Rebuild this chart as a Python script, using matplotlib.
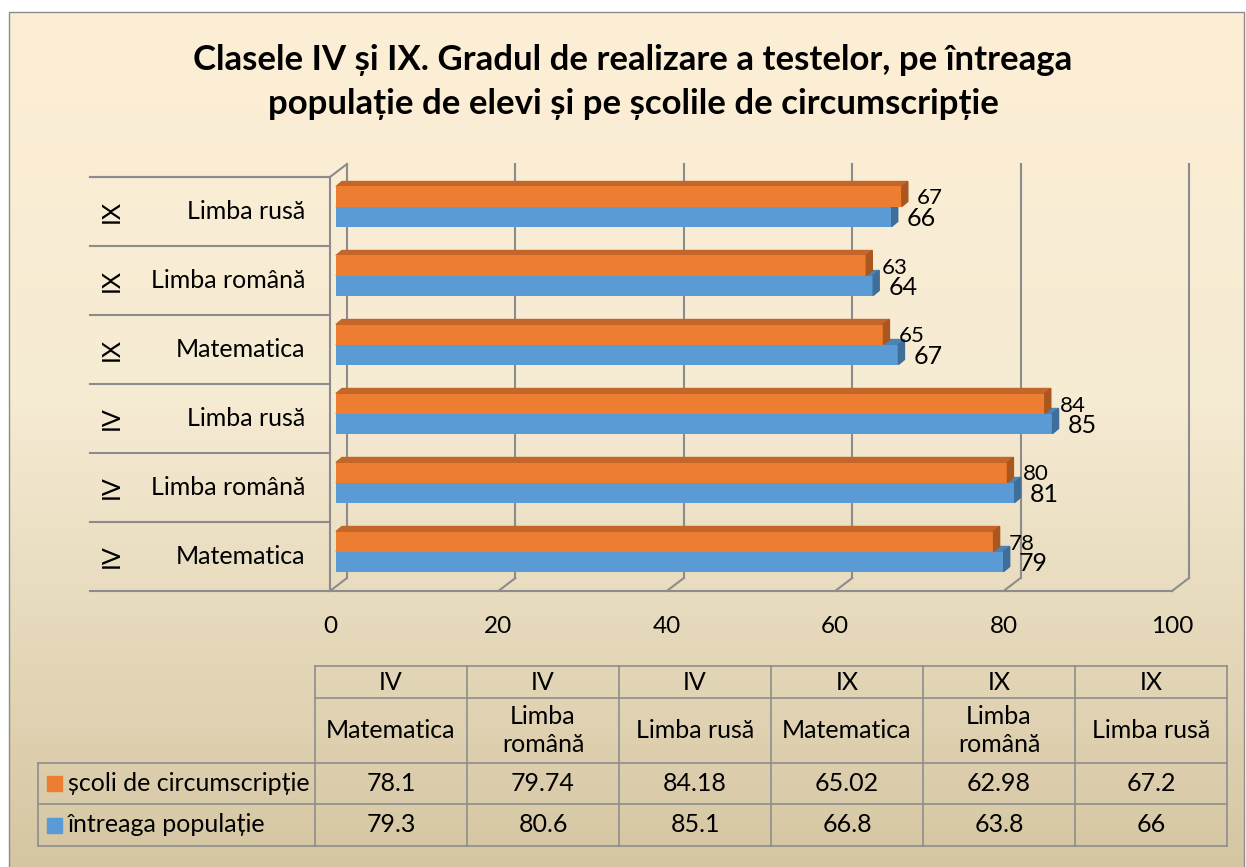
import numpy as np
import matplotlib
matplotlib.use("Agg")
import matplotlib.pyplot as plt
from matplotlib.patches import Polygon, Rectangle
from matplotlib.colors import LinearSegmentedColormap

plt.rcParams['font.family'] = ['Lato', 'DejaVu Sans']

# data
title = ("Clasele IV și IX. Gradul de realizare a testelor, pe întreaga\n"
         "populație de elevi și pe școlile de circumscripție")
grades = ["IV", "IV", "IV", "IX", "IX", "IX"]
subjects = ["Matematica", "Limba română", "Limba rusă",
            "Matematica", "Limba română", "Limba rusă"]
subjects_table = ["Matematica", "Limba\nromână", "Limba rusă",
                  "Matematica", "Limba\nromână", "Limba rusă"]
series_names = ["școli de circumscripție", "întreaga populație"]
scoli = [78.1, 79.74, 84.18, 65.02, 62.98, 67.2]
intreaga = [79.3, 80.6, 85.1, 66.8, 63.8, 66]
xticks = [0, 20, 40, 60, 80, 100]

orange, orange_side, orange_top = "#ED7D31", "#A9561F", "#C4652A"
blue, blue_side, blue_top = "#5B9BD5", "#3E6E99", "#4C84B6"
grid_c = "#8C8C8C"
fs = 18

W, H = 1246, 867
fig = plt.figure(figsize=(W / 100, H / 100), dpi=100)

# background gradient + frame (pixel coordinates)
bg = fig.add_axes([0, 0, 1, 1], zorder=-10)
cmap = LinearSegmentedColormap.from_list(
    "bg", [(0, "#FDEFD6"), (0.45, "#F6EBD3"), (1, "#D5C6A2")])
grad = np.linspace(0, 1, 256).reshape(-1, 1)
bg.imshow(grad, cmap=cmap, extent=(9, 1244, 872, 12), aspect="auto")
bg.add_patch(Rectangle((9, 12), 1235, 870, fill=False, ec="#8C8C8C", lw=1))
bg.set_xlim(0, W)
bg.set_ylim(H, 0)
bg.axis("off")

fig.text(633 / W, 1 - 82 / H, title, ha="center", va="center",
         fontsize=25, weight="bold", linespacing=1.45)

# main chart (front plane)
ax = fig.add_axes([330 / W, (H - 591) / H, 842 / W, 414 / H])
ax.set_xlim(0, 100)
ax.set_ylim(-0.5, 5.5)
ax.patch.set_alpha(0)
for s in ax.spines.values():
    s.set_visible(False)
ax.set_yticks([])
ax.set_xticks(xticks)
ax.tick_params(axis="x", length=0, pad=18, labelsize=17.5)

sx = 842 / 100      # px per x unit
sy = 414 / 6        # px per category
dx, dy = 17 / sx, 13 / sy          # wall depth
fx, fy = 6 / sx, 5 / sy            # bar front offset
bx, by = 6 / sx, 5 / sy            # bar depth
h = 20 / sy

lkw = dict(color=grid_c, lw=1.5, clip_on=False, zorder=1)
for t in xticks:
    ax.plot([t + dx, t + dx], [-0.5 + dy, 5.5 + dy], **lkw)
    ax.plot([t, t + dx], [-0.5, -0.5 + dy], **lkw)
ax.plot([0, 0], [-0.5, 5.5], **lkw)
ax.plot([0, dx], [5.5, 5.5 + dy], **lkw)
left = (90 - 330) / sx
ax.plot([left, 100], [-0.5, -0.5], **lkw)
for k in range(6):
    ax.plot([left, 0], [k + 0.5, k + 0.5], **lkw)
ax.plot([left, 0], [5.5, 5.5], **lkw)

for i, (g, s) in enumerate(zip(grades, subjects)):
    ax.text((305 - 330) / sx, i, s, ha="right", va="center", fontsize=fs)
    ax.text((111 - 330) / sx, i, g, ha="center", va="center", fontsize=fs,
            rotation=90)

y = np.arange(len(subjects))


def bar3d(vals, y0s, front, side, top):
    ax.barh(y0s, vals, left=fx, height=h, align="edge", color=front,
            zorder=3)
    for v, y0 in zip(vals, y0s):
        y1 = y0 + h
        ax.add_patch(Polygon([(fx, y1), (fx + bx, y1 + by),
                              (v + fx + bx, y1 + by), (v + fx, y1)],
                             closed=True, color=top, zorder=2.5))
        ax.add_patch(Polygon([(v + fx, y0), (v + fx + bx, y0 + by),
                              (v + fx + bx, y1 + by), (v + fx, y1)],
                             closed=True, color=side, zorder=3))


bar3d(intreaga, y + fy - h, blue, blue_side, blue_top)
bar3d(scoli, y + fy, orange, orange_side, orange_top)

gap = 9 / sx
for i in range(len(y)):
    ax.text(scoli[i] + fx + bx + gap, y[i] + fy + h / 2 - 2 / sy,
            f"{scoli[i]:.0f}", ha="left", va="center", fontsize=16, zorder=5)
    ax.text(intreaga[i] + fx + bx + gap, y[i] + fy - h / 2 - 2 / sy,
            f"{intreaga[i]:.0f}", ha="left", va="center", fontsize=18,
            zorder=5)

# data table under the chart (pixel coordinates on bg)
cols = [315, 467, 619, 771, 923, 1075, 1227]
rows = [666, 698, 763, 804, 846]
tkw = dict(color="#8E8E8E", lw=1.2)
bg.plot([cols[0], cols[-1]], [rows[0], rows[0]], **tkw)
bg.plot([cols[0], cols[-1]], [rows[1], rows[1]], **tkw)
for r in rows[2:]:
    bg.plot([38, cols[-1]], [r, r], **tkw)
for c in cols:
    bg.plot([c, c], [rows[0], rows[-1]], **tkw)
bg.plot([38, 38], [rows[2], rows[-1]], **tkw)

for j in range(6):
    cx = (cols[j] + cols[j + 1]) / 2
    bg.text(cx, (rows[0] + rows[1]) / 2, grades[j], ha="center",
            va="center", fontsize=fs)
    bg.text(cx, (rows[1] + rows[2]) / 2, subjects_table[j], ha="center",
            va="center", fontsize=fs, linespacing=1.3)
    bg.text(cx, (rows[2] + rows[3]) / 2, f"{scoli[j]:g}", ha="center",
            va="center", fontsize=fs)
    bg.text(cx, (rows[3] + rows[4]) / 2, f"{intreaga[j]:g}", ha="center",
            va="center", fontsize=fs)

for k, (name, col) in enumerate(zip(series_names, [orange, blue])):
    yc = (rows[2 + k] + rows[3 + k]) / 2
    bg.add_patch(Rectangle((47, yc - 7.5), 15, 15, color=col))
    bg.text(68, yc, name, ha="left", va="center", fontsize=fs)

fig.savefig("out.png", dpi=100)
